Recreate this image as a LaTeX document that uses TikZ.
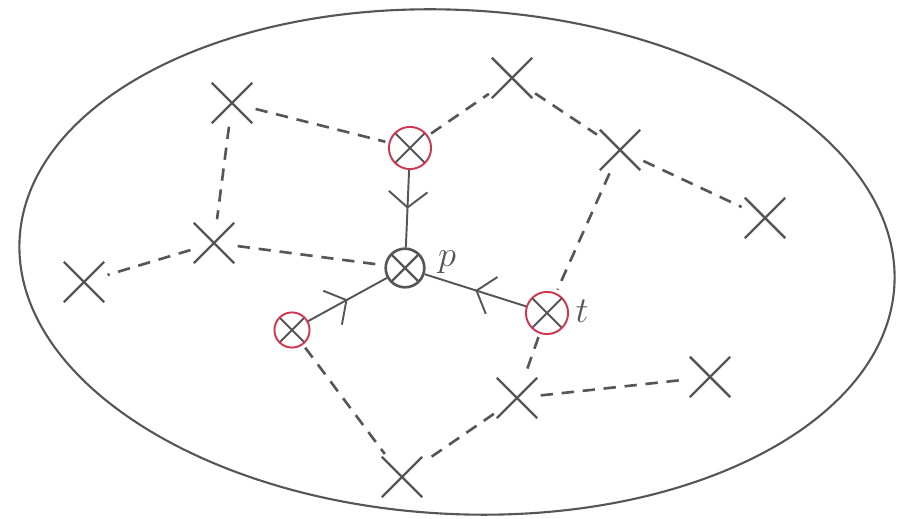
\documentclass[tikz,border=0pt]{standalone}
\usetikzlibrary{shapes.misc,arrows.meta,decorations.markings}
\definecolor{pen}{RGB}{85,85,90}
\definecolor{redpen}{RGB}{205,55,80}
\tikzset{
  mark x/.style={cross out,draw=pen,line width=1.4pt,minimum size=13pt,inner sep=0pt,outer sep=5pt},
  otimesnode/.style={circle,draw=pen,line width=1.5pt,minimum size=22pt,inner sep=0pt,
    path picture={\draw[pen,line width=1.3pt] (path picture bounding box.north west)--(path picture bounding box.south east)
    (path picture bounding box.north east)--(path picture bounding box.south west);}},
  rednode/.style={circle,draw=redpen,line width=1.1pt,minimum size=#1,inner sep=0pt,
    path picture={\draw[pen,line width=1.1pt] (path picture bounding box.north west)--(path picture bounding box.south east)
    (path picture bounding box.north east)--(path picture bounding box.south west);}},
  dashedge/.style={draw=pen,line width=1.5pt,dash pattern=on 7pt off 5pt,shorten >=2pt,shorten <=2pt},
  flow/.style={draw=pen,line width=1.1pt,postaction={decorate},
    decoration={markings,mark=at position 0.5 with {\arrow{Straight Barb[length=9pt,width=22pt,line width=1.1pt]}}}},
  lbl/.style={font=\huge,text=pen}
}
\begin{document}
\begin{tikzpicture}[x=0.02cm,y=-0.02cm]
\useasboundingbox (0,0) rectangle (897,519);
\draw[pen,line width=1.2pt,rotate around={-3:(457,262)}] (457,262) ellipse [x radius=438,y radius=252];
% nodes
\node[otimesnode] (s) at (405,268) {};
\node[rednode=24pt] (top) at (410,148) {};
\node[rednode=24pt] (t) at (547,313) {};
\node[rednode=20pt] (bl) at (292,330) {};
\node[mark x] (A) at (232,103) {};
\node[mark x] (B) at (512,78) {};
\node[mark x] (C) at (620,150) {};
\node[mark x] (D) at (765,218) {};
\node[mark x] (E) at (214,243) {};
\node[mark x] (F) at (84,282) {};
\node[mark x] (G) at (517,398) {};
\node[mark x] (H) at (710,377) {};
\node[mark x] (I) at (402,477) {};
% labels
\node[lbl] (plabel) at (447,262) {$p$};
\node[lbl] (tlabel) at (582,311) {$t$};
% dashed edges
\draw[dashedge] (A) -- (top);
\draw[dashedge] (A) -- (E);
\draw[dashedge] (E) -- (F);
\draw[dashedge] (E) -- (s);
\draw[dashedge] (top) -- (B);
\draw[dashedge] (B) -- (C);
\draw[dashedge] (C) -- (D);
\draw[dashedge] (C) -- (t);
\draw[dashedge] (t) -- (G);
\draw[dashedge] (G) -- (H);
\draw[dashedge] (G) -- (I);
\draw[dashedge] (bl) -- (I);
% flow edges
\draw[flow] (top) -- (s);
\draw[flow] (t) -- (s);
\draw[flow] (bl) -- (s);
\end{tikzpicture}
\end{document}
